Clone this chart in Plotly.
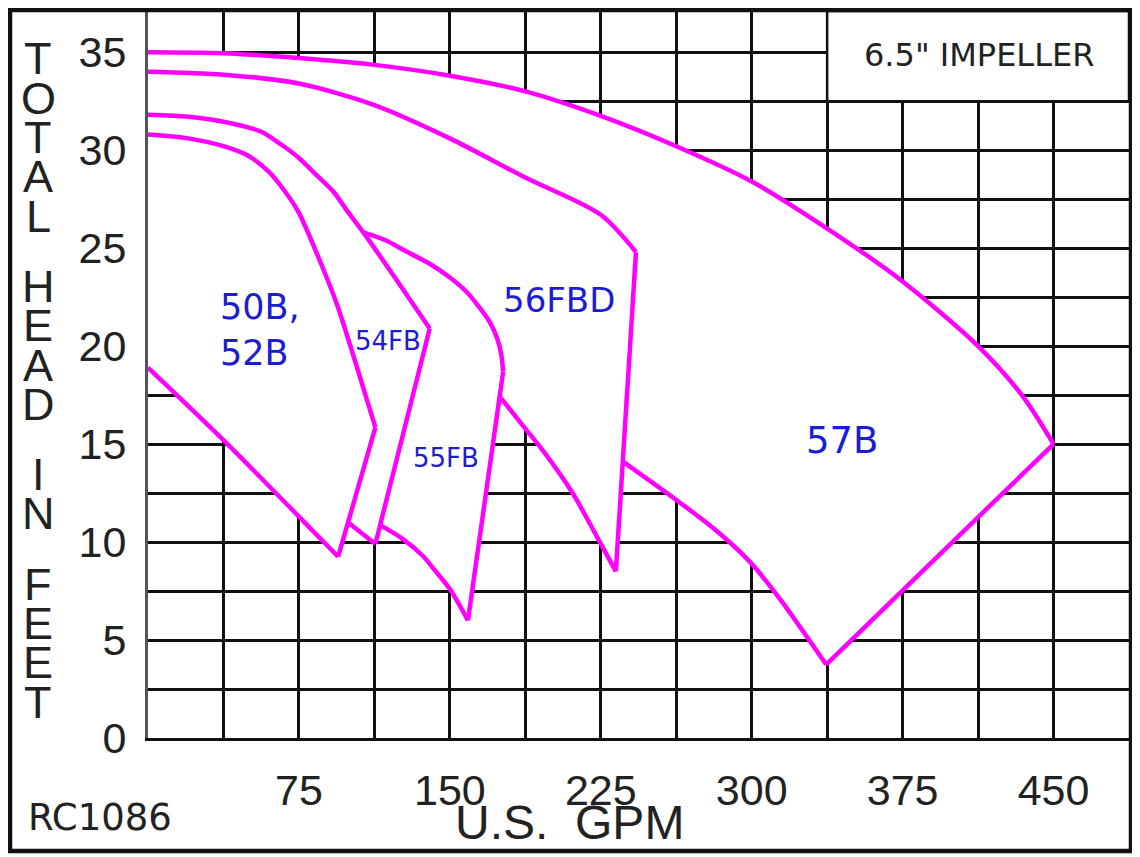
import plotly.graph_objects as go

# Grid positions and tick labels
gpm_ticks = [0, 37.5, 75, 112.5, 150, 187.5, 225, 262.5, 300, 337.5, 375, 412.5, 450, 487.5]
gpm_labels = ["", "", "75", "", "150", "", "225", "", "300", "", "375", "", "450", ""]
head_ticks = [0, 2.5, 5, 7.5, 10, 12.5, 15, 17.5, 20, 22.5, 25, 27.5, 30, 32.5, 35]
head_labels = ["0", "", "5", "", "10", "", "15", "", "20", "", "25", "", "30", "", "35"]

# Pump outlines (U.S. GPM, feet): top curve, right edge down, then lower edge back
b50_gpm = [0, 20, 37.5, 50, 60, 68, 75, 84, 94, 103, 113, 94.5, 75, 37.5, 0]
b50_head = [30.8, 30.6, 30.2, 29.7, 28.9, 27.9, 26.8, 24.7, 22.1, 19.2, 15.85, 9.25, 11.3, 15.2, 18.9]

fb54_gpm = [0, 20, 37.5, 56, 66, 75, 83, 92, 99, 107, 122, 140, 113, 99.5]
fb54_head = [31.8, 31.7, 31.45, 30.95, 30.3, 29.6, 28.8, 27.9, 26.9, 25.8, 23.6, 20.9, 9.9, 11.0]

fb55_gpm = [107, 118, 128, 140, 150, 158, 164.5, 170, 173.5, 175.5, 176.5, 159, 150, 143, 136.5, 126, 115.5]
fb55_head = [25.8, 25.4, 24.85, 24.2, 23.5, 22.8, 22.0, 21.2, 20.4, 19.6, 18.7, 6.0, 7.6, 8.5, 9.3, 10.2, 10.85]

fbd56_gpm = [0, 37.5, 75, 112.5, 150, 187.5, 225, 242.5, 232.5, 224, 211, 196, 187, 175]
fbd56_head = [34.0, 33.85, 33.4, 32.3, 30.6, 28.6, 26.7, 24.8, 8.5, 10.1, 12.5, 14.7, 15.85, 17.4]

b57_gpm = [0, 37.5, 75, 112.5, 150, 187.5, 225, 262.5, 300, 337.5, 375, 412.5, 435, 450,
           337, 314, 299, 281, 262.5, 236]
b57_head = [35.0, 34.95, 34.7, 34.35, 33.8, 33.0, 31.75, 30.2, 28.4, 26.0, 23.3, 20.0, 17.4, 15.0,
            3.75, 7.1, 9.0, 10.7, 12.15, 14.1]

# index of the tip where the top curve ends on each outline
pumps = [
    ("57B", b57_gpm, b57_head, 13),
    ("56FBD", fbd56_gpm, fbd56_head, 7),
    ("55FB", fb55_gpm, fb55_head, 10),
    ("54FB", fb54_gpm, fb54_head, 11),
    ("50B, 52B", b50_gpm, b50_head, 10),
]

fig = go.Figure()

# white area covering the grid: the 57B outline, then the lower edges of the
# smaller pumps (each one starts at its bottom corner), back to the head axis
fill_x, fill_y = [], []
for i, (name, xs, ys, tip) in enumerate(pumps):
    start = 0 if i == 0 else tip + 1
    fill_x += xs[start:]
    fill_y += ys[start:]
fig.add_trace(go.Scatter(x=fill_x, y=fill_y, mode="lines", fill="toself",
                         fillcolor="white", line=dict(width=0),
                         hoverinfo="skip", showlegend=False))

pink = "#ff00ff"
for name, xs, ys, tip in pumps:
    # curved top
    fig.add_trace(go.Scatter(x=xs[:tip + 1], y=ys[:tip + 1], mode="lines", name=name,
                             line=dict(color=pink, width=4.5, shape="spline", smoothing=0.8)))
    # straight right edge
    fig.add_trace(go.Scatter(x=xs[tip:tip + 2], y=ys[tip:tip + 2], mode="lines", name=name,
                             line=dict(color=pink, width=4.5)))
    # lower edge
    fig.add_trace(go.Scatter(x=xs[tip + 1:], y=ys[tip + 1:], mode="lines", name=name,
                             line=dict(color=pink, width=4.5, shape="spline", smoothing=0.8)))

blue = "#1c1cd2"
ink = "#222222"
sans = "DejaVu Sans, Verdana, sans-serif"
thin = "Liberation Sans, Arial, sans-serif"

# pump labels
fig.add_annotation(x=35, y=20.8, text="50B,<br>52B", showarrow=False, xanchor="left",
                   yanchor="middle", align="left", font=dict(family=sans, size=35, color=blue))
fig.add_annotation(x=119.5, y=20.25, text="54FB", showarrow=False, xanchor="center",
                   yanchor="middle", font=dict(family=sans, size=26, color=blue))
fig.add_annotation(x=148, y=14.3, text="55FB", showarrow=False, xanchor="center",
                   yanchor="middle", font=dict(family=sans, size=26, color=blue))
fig.add_annotation(x=204, y=22.35, text="56FBD", showarrow=False, xanchor="center",
                   yanchor="middle", font=dict(family=sans, size=34, color=blue))
fig.add_annotation(x=345, y=15.2, text="57B", showarrow=False, xanchor="center",
                   yanchor="middle", font=dict(family=sans, size=37, color=blue))

fig.add_annotation(x=413, y=34.85, text='6.5" IMPELLER', showarrow=False, xanchor="center",
                   yanchor="middle", font=dict(family=sans, size=32, color=ink))

# the page body has an 8px margin, so the figure is laid out 8px smaller and
# everything below is given in window pixels (plot area is 148..1129 x 11..738)
def px(v):
    return (v - 148) / 981

def py(v):
    return (738 - v) / 727

# vertical stacked y title
ytitle = "TOTAL HEAD IN FEET"
pos = 58.5
for ch in ytitle:
    if ch == " ":
        pos += 31
        continue
    fig.add_annotation(x=px(38), y=py(pos), xref="paper", yref="paper", text=ch,
                       showarrow=False, xanchor="center", yanchor="middle", height=38,
                       font=dict(family=thin, size=45, color=ink))
    pos += 39.3

fig.add_annotation(x=px(569), y=py(823), xref="paper", yref="paper",
                   text="U.S.\u00a0\u00a0GPM", showarrow=False, xanchor="center",
                   yanchor="middle", font=dict(family=thin, size=48, color=ink))
fig.add_annotation(x=px(26), y=py(818), xref="paper", yref="paper", xanchor="left",
                   yanchor="middle", text="RC1086", showarrow=False,
                   font=dict(family=sans, size=37, color=ink))

# impeller box hides the grid in the corner
fig.add_shape(type="rect", x0=337.5, x1=487.5, y0=32.5, y1=37.1, xref="x", yref="y",
              fillcolor="white", line=dict(color="#111111", width=2.5), layer="above")
# outer frame
fig.add_shape(type="rect", x0=px(10), x1=px(1131), y0=py(851), y1=py(10),
              xref="paper", yref="paper", line=dict(color="#111111", width=4.5))

fig.update_xaxes(range=[0, 487.5], tickmode="array", tickvals=gpm_ticks, ticktext=gpm_labels,
                 showgrid=True, gridcolor="#111111", gridwidth=2.5, zeroline=False,
                 showline=True, linecolor="#111111", linewidth=3, ticks="", automargin=False,
                 ticklabelstandoff=12, tickfont=dict(family=thin, size=43, color=ink))
fig.update_yaxes(range=[0, 37.1], tickmode="array", tickvals=head_ticks, ticktext=head_labels,
                 showgrid=True, gridcolor="#111111", gridwidth=2.5, zeroline=False,
                 showline=True, linecolor="#555555", linewidth=3, ticks="", automargin=False,
                 ticklabelstandoff=10, tickfont=dict(family=thin, size=43, color=ink))

fig.update_layout(width=1132, height=849, margin=dict(l=140, r=11, t=3, b=119),
                  plot_bgcolor="white", paper_bgcolor="white", showlegend=False)

fig.write_html("out.html")
